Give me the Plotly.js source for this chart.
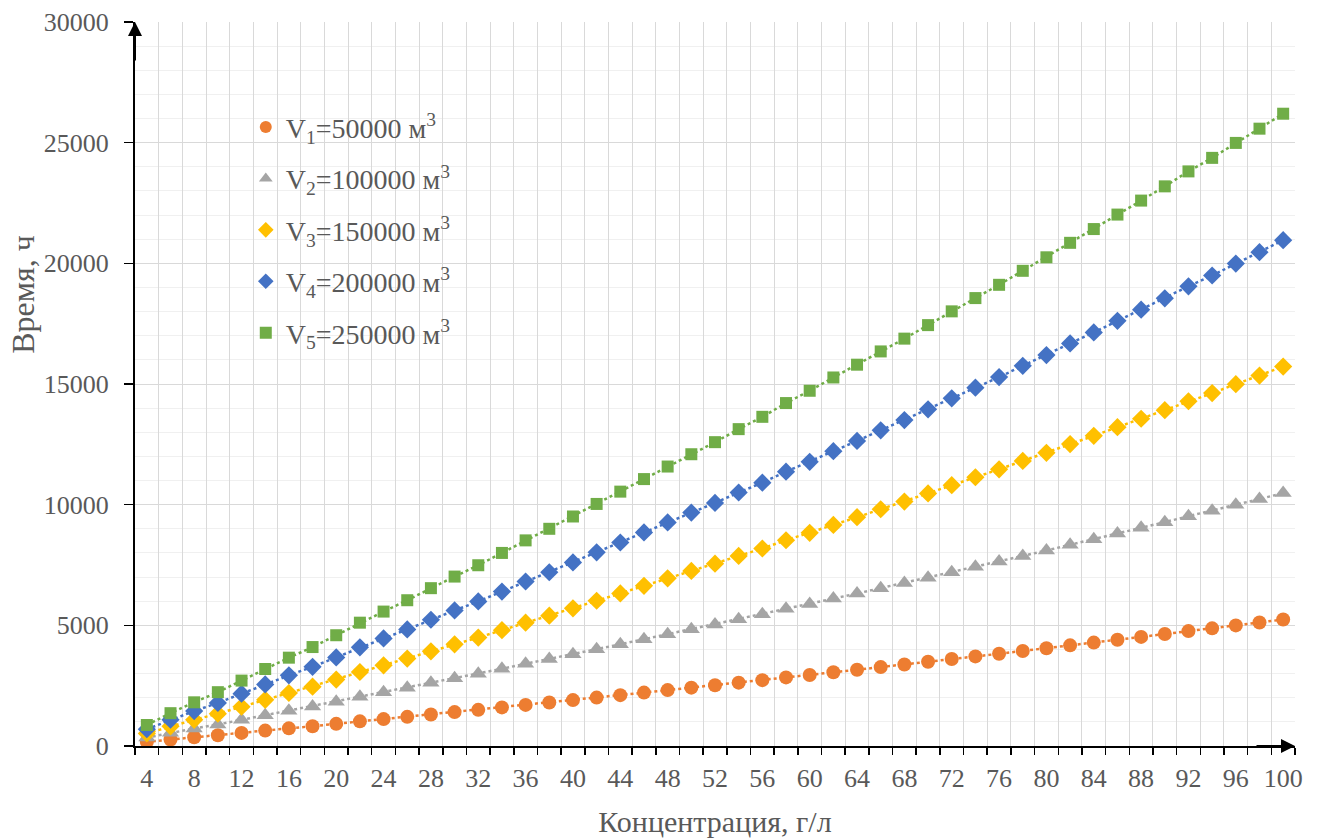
<!DOCTYPE html>
<html>
<head>
<meta charset="utf-8">
<script src="https://cdn.plot.ly/plotly-3.0.1.min.js"></script>
<style>
html,body{margin:0;padding:0;background:#fff;}
#chart{width:1320px;height:838px;}
</style>
</head>
<body>
<div id="chart"></div>
<script>
// Concentration, g/l
const conc = [4,6,8,10,12,14,16,18,20,22,24,26,28,30,32,34,36,38,40,42,44,46,48,50,52,54,56,58,60,62,64,66,68,70,72,74,76,78,80,82,84,86,88,90,92,94,96,98,100];

// Time, h
const v1 = [174,272,362,446,542,638,732,820,918,1022,1114,1208,1308,1404,1498,1600,1704,1800,1902,2006,2108,2212,2316,2418,2518,2626,2728,2842,2944,3054,3160,3270,3376,3488,3602,3712,3822,3938,4050,4170,4284,4404,4520,4638,4762,4874,4998,5116,5240];
const v2 = [348,544,724,892,1084,1276,1464,1640,1836,2044,2228,2416,2616,2808,2996,3200,3408,3600,3804,4012,4216,4424,4632,4836,5036,5252,5456,5684,5888,6108,6320,6540,6752,6976,7204,7424,7644,7876,8100,8340,8568,8808,9040,9276,9524,9748,9996,10232,10480];
const v3 = [522,816,1086,1338,1626,1914,2196,2460,2754,3066,3342,3624,3924,4212,4494,4800,5112,5400,5706,6018,6324,6636,6948,7254,7554,7878,8184,8526,8832,9162,9480,9810,10128,10464,10806,11136,11466,11814,12150,12510,12852,13212,13560,13914,14286,14622,14994,15348,15720];
const v4 = [696,1088,1448,1784,2168,2552,2928,3280,3672,4088,4456,4832,5232,5616,5992,6400,6816,7200,7608,8024,8432,8848,9264,9672,10072,10504,10912,11368,11776,12216,12640,13080,13504,13952,14408,14848,15288,15752,16200,16680,17136,17616,18080,18552,19048,19496,19992,20464,20960];
const v5 = [870,1360,1810,2230,2710,3190,3660,4100,4590,5110,5570,6040,6540,7020,7490,8000,8520,9000,9510,10030,10540,11060,11580,12090,12590,13130,13640,14210,14720,15270,15800,16350,16880,17440,18010,18560,19110,19690,20250,20850,21420,22020,22600,23190,23810,24370,24990,25580,26200];

const seriesNames = [
  'V<sub>1</sub>=50000 м<sup>3</sup>',
  'V<sub>2</sub>=100000 м<sup>3</sup>',
  'V<sub>3</sub>=150000 м<sup>3</sup>',
  'V<sub>4</sub>=200000 м<sup>3</sup>',
  'V<sub>5</sub>=250000 м<sup>3</sup>'
];
const seriesValues = [v1, v2, v3, v4, v5];
const colors = ['#ED7D31','#A5A5A5','#FFC000','#4472C4','#70AD47'];
const symbols = ['circle','triangle-up','diamond','diamond','square'];
const sizes = [14,15,14,14,12];

// tick labels (category centres) and category boundaries (tick marks + vertical gridlines)
const xTickVals = [4,8,12,16,20,24,28,32,36,40,44,48,52,56,60,64,68,72,76,80,84,88,92,96,100];
const xBoundaries = [3,5,7,9,11,13,15,17,19,21,23,25,27,29,31,33,35,37,39,41,43,45,47,49,51,53,55,57,59,61,63,65,67,69,71,73,75,77,79,81,83,85,87,89,91,93,95,97,99,101];
const yTickVals = [0,5000,10000,15000,20000,25000,30000];

const serif = '"Liberation Serif","Times New Roman",serif';
const traces = [];
// dotted connecting lines (lower layer)
seriesValues.forEach((vals, i) => {
  traces.push({
    x: conc, y: vals, type: 'scatter', mode: 'lines', xaxis: 'x', yaxis: 'y',
    line: {color: colors[i], width: 2.5, dash: 'dot'},
    legendgroup: 'g' + i, showlegend: false, hoverinfo: 'skip'
  });
});
// markers (upper layer, on the overlaid axis with identical range)
seriesValues.forEach((vals, i) => {
  traces.push({
    x: conc, y: vals, type: 'scatter', mode: 'markers', xaxis: 'x2', yaxis: 'y',
    name: seriesNames[i],
    marker: {color: colors[i], symbol: symbols[i], size: sizes[i]},
    legendgroup: 'g' + i, showlegend: true
  });
});

const layout = {
  width: 1320, height: 838,
  margin: {l: 135, r: 25, t: 22, b: 92},
  paper_bgcolor: '#ffffff', plot_bgcolor: '#ffffff',
  font: {family: serif, color: '#595959', size: 26},
  showlegend: true,
  legend: {
    x: 0.0955, y: 0.889, xanchor: 'left', yanchor: 'top',
    bgcolor: 'rgba(0,0,0,0)', borderwidth: 0,
    font: {family: serif, size: 28, color: '#595959'},
    tracegroupgap: 12, itemsizing: 'constant', traceorder: 'grouped'
  },
  // axis carrying the category-boundary tick marks and vertical gridlines
  xaxis: {
    range: [3, 101], tickmode: 'array', tickvals: xBoundaries,
    ticktext: xBoundaries.map(() => ''),
    ticks: 'outside', ticklen: 7, tickcolor: '#000000', tickwidth: 1.5,
    showgrid: true, gridcolor: '#d9d9d9', gridwidth: 1, zeroline: false,
    showline: true, linecolor: '#000000', linewidth: 2
  },
  // overlaid axis carrying the labels and the title
  xaxis2: {
    overlaying: 'x', anchor: 'y', side: 'bottom',
    range: [3, 101], tickmode: 'array', tickvals: xTickVals,
    ticks: 'outside', ticklen: 7, tickcolor: 'rgba(0,0,0,0)',
    ticklabelstandoff: 2,
    showgrid: false, zeroline: false, showline: false,
    tickfont: {family: serif, size: 26, color: '#595959'},
    title: {text: 'Концентрация, г/л', font: {family: serif, size: 30, color: '#595959'}, standoff: 18}
  },
  yaxis: {
    range: [0, 30000], tickmode: 'array', tickvals: yTickVals, tickformat: 'd',
    ticks: 'outside', ticklen: 9, tickcolor: '#000000', tickwidth: 1.5,
    ticklabelstandoff: 10,
    showgrid: true, gridcolor: '#d9d9d9', gridwidth: 1, zeroline: false,
    showline: true, linecolor: '#000000', linewidth: 2,
    tickfont: {family: serif, size: 26, color: '#595959'},
    minor: {dtick: 1000, showgrid: true, gridcolor: '#f0f0f0', gridwidth: 1, ticks: ''}
  },
  annotations: [
    {xref: 'paper', yref: 'paper', x: -0.096, y: 0.624, text: 'Время, ч', textangle: -90,
     showarrow: false, font: {family: serif, size: 32, color: '#595959'}, xanchor: 'center', yanchor: 'middle'},
    {xref: 'paper', yref: 'paper', x: 0, y: 1, ax: 0, ay: 40, axref: 'pixel', ayref: 'pixel', text: '',
     showarrow: true, arrowhead: 2, arrowsize: 1.4, arrowwidth: 2, arrowcolor: '#000000'},
    {xref: 'paper', yref: 'paper', x: 1, y: 0, ax: -40, ay: 0, axref: 'pixel', ayref: 'pixel', text: '',
     showarrow: true, arrowhead: 2, arrowsize: 1.4, arrowwidth: 2, arrowcolor: '#000000'}
  ]
};

Plotly.newPlot('chart', traces, layout, {displayModeBar: false, staticPlot: true});
</script>
</body>
</html>
